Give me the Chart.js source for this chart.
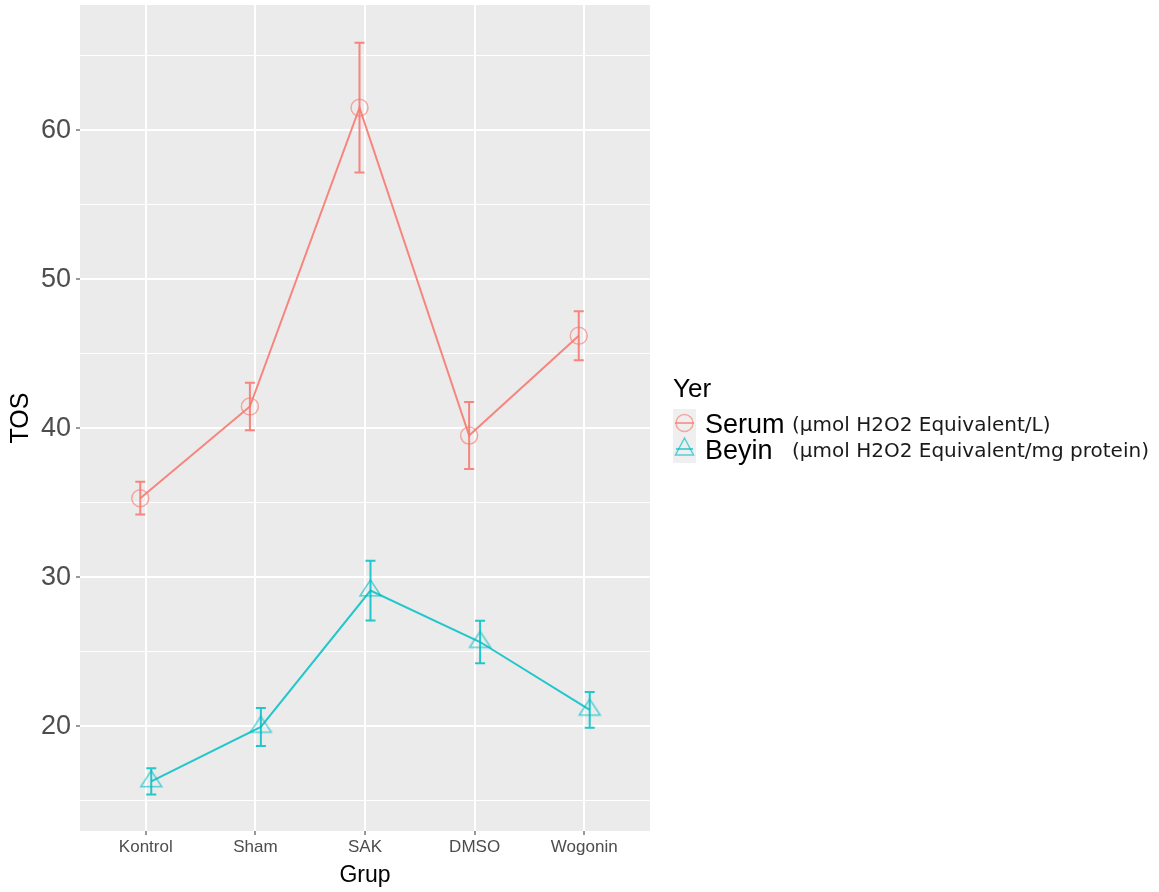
<!DOCTYPE html>
<html>
<head>
<meta charset="utf-8">
<script src="https://cdn.jsdelivr.net/npm/chart.js@4.4.1/dist/chart.umd.min.js"></script>
<style>
  html, body { margin: 0; padding: 0; background: #ffffff; }
  #wrap { width: 1159px; height: 892px; position: relative; }
</style>
</head>
<body>
<div id="wrap"><canvas id="c" width="1159" height="892"></canvas></div>
<script>
// Groups on the x axis
const groups = ['Kontrol', 'Sham', 'SAK', 'DMSO', 'Wogonin'];

// TOS means and error half-widths per group
const serumMean = [35.3, 41.45, 61.5, 39.5, 46.2];
const serumErr  = [1.1, 1.6, 4.35, 2.25, 1.65];
const beyinMean = [16.3, 19.95, 29.1, 25.65, 21.1];
const beyinErr  = [0.88, 1.28, 2.0, 1.42, 1.2];

// Axis ticks
const yMajorTicks = [20, 30, 40, 50, 60];
const yMinorTicks = [15, 25, 35, 45, 55, 65];

// Legend
const legendTitle = 'Yer';
const seriesNames = ['Serum', 'Beyin'];
const seriesUnits = ['(µmol H2O2 Equivalent/L)', '(µmol H2O2 Equivalent/mg protein)'];

const RED = 'rgba(248,118,109,0.88)';
const TEAL = 'rgba(0,191,196,0.85)';
const RED_PT = 'rgba(248,118,109,0.6)';
const TEAL_PT = 'rgba(0,191,196,0.65)';
const DODGE = 0.05;
const SANS = '"Liberation Sans", Arial, Helvetica, sans-serif';

const toPoints = (means, shift) => means.map((v, i) => ({ x: i + shift, y: v }));

const series = [
  { means: serumMean, errs: serumErr, shift: -DODGE, color: RED },
  { means: beyinMean, errs: beyinErr, shift: DODGE, color: TEAL }
];

// open triangle marker, centroid near the image centre
function triangleMarker(w, h, color) {
  const pad = 2;
  const c = document.createElement('canvas');
  c.width = w + pad * 2;
  c.height = Math.round(h * 4 / 3) + pad * 2;
  const g = c.getContext('2d');
  const apexY = c.height / 2 - h * 2 / 3;
  g.strokeStyle = color;
  g.lineWidth = 1.5;
  g.beginPath();
  g.moveTo(c.width / 2, apexY);
  g.lineTo(c.width / 2 + w / 2, apexY + h);
  g.lineTo(c.width / 2 - w / 2, apexY + h);
  g.closePath();
  g.stroke();
  return c;
}

// grey panel behind the grid
const panelBg = {
  id: 'panelBg',
  beforeDraw(chart) {
    const { ctx, chartArea: a } = chart;
    ctx.save();
    ctx.fillStyle = '#EBEBEB';
    ctx.fillRect(a.left, a.top, a.right - a.left, a.bottom - a.top);
    ctx.restore();
  }
};

// vertical error bars with caps
const errorBars = {
  id: 'errorBars',
  beforeDatasetsDraw(chart) {
    const { ctx, scales: { x, y } } = chart;
    ctx.save();
    ctx.lineWidth = 2;
    series.forEach(s => {
      ctx.strokeStyle = s.color;
      s.means.forEach((m, i) => {
        const px = x.getPixelForValue(i + s.shift);
        const top = y.getPixelForValue(m + s.errs[i]);
        const bot = y.getPixelForValue(m - s.errs[i]);
        const cap = 5;
        ctx.beginPath();
        ctx.moveTo(px, top); ctx.lineTo(px, bot);
        ctx.moveTo(px - cap, top); ctx.lineTo(px + cap, top);
        ctx.moveTo(px - cap, bot); ctx.lineTo(px + cap, bot);
        ctx.stroke();
      });
    });
    ctx.restore();
  }
};

// legend at the right of the panel
const sideLegend = {
  id: 'sideLegend',
  afterDraw(chart) {
    const { ctx } = chart;
    ctx.save();
    ctx.textBaseline = 'middle';
    ctx.textAlign = 'left';
    ctx.fillStyle = '#000000';
    ctx.font = '26px ' + SANS;
    ctx.fillText(legendTitle, 673, 390);

    const keyX = 673, keyW = 23, keyTop = 409, keyH = 27;
    ctx.fillStyle = '#EFEFEF';
    ctx.fillRect(keyX, keyTop, keyW, keyH * 2);

    const cx = keyX + keyW / 2;
    // Serum key: line + open circle
    let cy = 423;
    ctx.lineWidth = 1.5;
    ctx.strokeStyle = RED;
    ctx.beginPath(); ctx.moveTo(keyX + 2, cy); ctx.lineTo(keyX + keyW - 2, cy); ctx.stroke();
    ctx.strokeStyle = RED_PT;
    ctx.beginPath(); ctx.arc(cx, cy, 8.5, 0, Math.PI * 2); ctx.stroke();
    // Beyin key: line + open triangle
    cy = 449;
    ctx.strokeStyle = TEAL;
    ctx.beginPath(); ctx.moveTo(keyX + 3, cy); ctx.lineTo(keyX + keyW - 3, cy); ctx.stroke();
    ctx.strokeStyle = TEAL_PT;
    ctx.beginPath();
    ctx.moveTo(cx, cy - 11);
    ctx.lineTo(cx + 9, cy + 6);
    ctx.lineTo(cx - 9, cy + 6);
    ctx.closePath(); ctx.stroke();

    const rowsY = [426, 452];
    seriesNames.forEach((n, i) => {
      ctx.fillStyle = '#000000';
      ctx.font = '27px ' + SANS;
      ctx.fillText(n, 705, rowsY[i]);
      ctx.fillStyle = '#1a1a1a';
      ctx.font = '20px "DejaVu Sans", Verdana, sans-serif';
      ctx.fillText(seriesUnits[i], 792, rowsY[i]);
    });
    ctx.restore();
  }
};

new Chart(document.getElementById('c'), {
  type: 'scatter',
  data: {
    datasets: [
      {
        label: seriesNames[0],
        data: toPoints(serumMean, -DODGE),
        showLine: true,
        borderColor: RED,
        borderWidth: 2,
        pointStyle: 'circle',
        pointRadius: 8.5,
        pointBorderWidth: 1.5,
        pointBorderColor: RED_PT,
        pointBackgroundColor: 'rgba(0,0,0,0)',
        order: 1
      },
      {
        label: seriesNames[1],
        data: toPoints(beyinMean, DODGE),
        showLine: true,
        borderColor: TEAL,
        borderWidth: 2,
        pointStyle: triangleMarker(21, 16, TEAL_PT),
        pointRadius: 11,
        order: 2
      }
    ]
  },
  options: {
    responsive: false,
    animation: false,
    events: [],
    layout: { autoPadding: false, padding: { top: 5, right: 509, left: 0, bottom: 0 } },
    plugins: { legend: { display: false }, tooltip: { enabled: false } },
    scales: {
      x: {
        type: 'linear',
        min: -0.6,
        max: 4.6,
        afterBuildTicks(s) { s.ticks = groups.map((g, i) => ({ value: i })); },
        afterFit(s) { s.height = 61; s.paddingLeft = 0; s.paddingRight = 0; },
        border: { display: false },
        grid: { color: '#FFFFFF', lineWidth: 2, tickColor: '#333333', tickLength: 4, tickWidth: 1 },
        ticks: {
          autoSkip: false,
          maxRotation: 0,
          padding: 2,
          color: '#4D4D4D',
          font: { family: SANS, size: 17 },
          callback: v => groups[v] ?? ''
        },
        title: {
          display: true,
          text: 'Grup',
          color: '#000000',
          font: { family: SANS, size: 23 },
          padding: { top: 0, bottom: 3 }
        }
      },
      y: {
        type: 'linear',
        min: 12.97,
        max: 68.39,
        afterBuildTicks(s) {
          s.ticks = [...yMinorTicks, ...yMajorTicks].sort((a, b) => a - b).map(v => ({ value: v }));
        },
        afterFit(s) { s.width = 80; s.paddingTop = 0; s.paddingBottom = 0; },
        border: { display: false },
        grid: {
          color: '#FFFFFF',
          lineWidth: c => (yMajorTicks.includes(c.tick.value) ? 2 : 1),
          tickColor: c => (yMajorTicks.includes(c.tick.value) ? '#333333' : 'rgba(0,0,0,0)'),
          tickLength: 4,
          tickWidth: 1
        },
        ticks: {
          autoSkip: false,
          padding: 5,
          color: '#4D4D4D',
          font: { family: SANS, size: 27 },
          callback: v => (yMajorTicks.includes(v) ? String(v) : '')
        },
        title: {
          display: true,
          text: 'TOS',
          color: '#000000',
          font: { family: SANS, size: 25 },
          padding: { top: 6, bottom: 0 }
        }
      }
    }
  },
  plugins: [panelBg, errorBars, sideLegend]
});
</script>
</body>
</html>
